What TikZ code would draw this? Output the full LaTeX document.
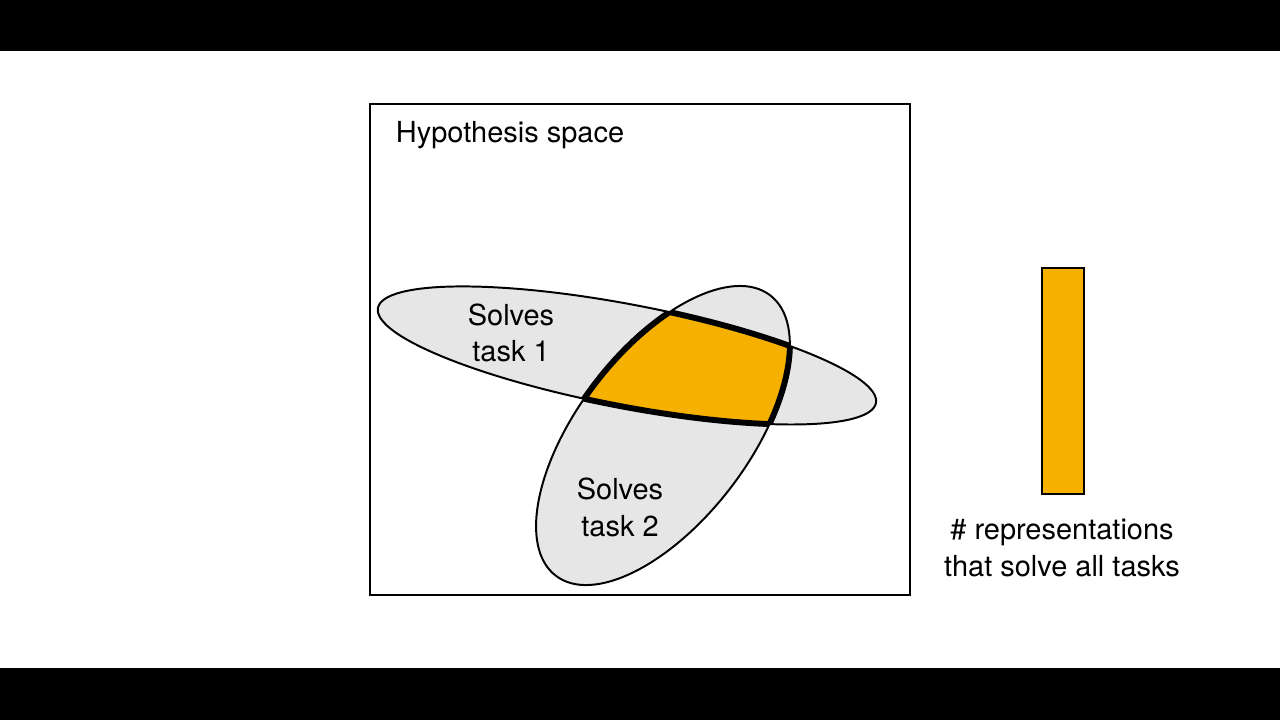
\documentclass[tikz,border=0pt]{standalone}
\usepackage{fontspec}
\setmainfont{TeX Gyre Heros}
\usepackage{xcolor}

\definecolor{taskgray}{RGB}{230,230,230}
\definecolor{solveorange}{RGB}{245,176,0}

\begin{document}
\begin{tikzpicture}[x=0.025cm, y=-0.025cm,
    caption/.style={font=\fontsize{20.6}{26.3}\selectfont, align=center, text=black},
    task one/.style={rotate around={-10.8:(627,355.5)}},
    task two/.style={rotate around={52.6:(663,435.5)}}]
    \useasboundingbox (0,0) rectangle (1280,720);

    % Slide background with black bars
    \fill[white] (0,0) rectangle (1280,720);
    \fill[black] (0,0) rectangle (1280,51);
    \fill[black] (0,668) rectangle (1280,720);

    % Hypothesis space frame
    \draw[line width=1.4pt] (370,104) rectangle (910,595);
    \node[caption, anchor=base west] (space) at (391,143) {Hypothesis space};

    % Task regions
    \coordinate (t1) at (627,355.5);
    \coordinate (t2) at (663,435.5);
    \fill[taskgray, task one] (t1) ellipse [x radius=253.5, y radius=51];
    \fill[taskgray, task two] (t2) ellipse [x radius=176.5, y radius=85.5];
    \draw[line width=1.4pt, task one] (t1) ellipse [x radius=253.5, y radius=51];
    \draw[line width=1.4pt, task two] (t2) ellipse [x radius=176.5, y radius=85.5];

    % Overlap: solves both tasks
    \begin{scope}
        \clip[task one] (t1) ellipse [x radius=253.5, y radius=51];
        \fill[solveorange, task two] (t2) ellipse [x radius=176.5, y radius=85.5];
        \draw[line width=4.2pt, task two] (t2) ellipse [x radius=176.5, y radius=85.5];
    \end{scope}
    \begin{scope}
        \clip[task two] (t2) ellipse [x radius=176.5, y radius=85.5];
        \draw[line width=4.2pt, task one] (t1) ellipse [x radius=253.5, y radius=51];
    \end{scope}

    % Region labels
    \node[caption, anchor=base] (task1) at (511,362) {Solves\\task 1};
    \node[caption, anchor=base] (task2) at (620,536) {Solves\\task 2};

    % Count bar
    \draw[fill=solveorange, line width=2pt] (1042,268) rectangle (1084,494);
    \node[caption, anchor=base] (count) at (1062,576) {\# representations\\that solve all tasks};
\end{tikzpicture}
\end{document}
